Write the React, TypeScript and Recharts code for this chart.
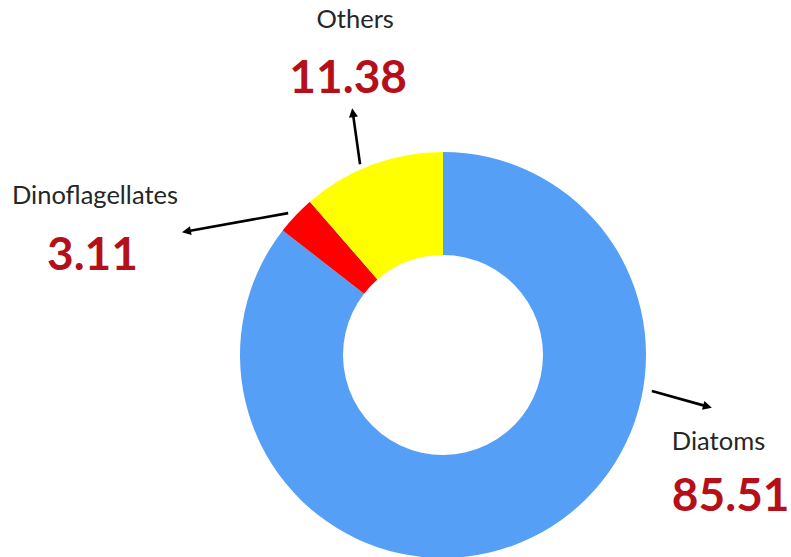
import React from 'react';
import { PieChart, Pie, Cell } from 'recharts';

const categories = ['Diatoms', 'Dinoflagellates', 'Others'];
const percentages = [85.51, 3.11, 11.38];
const valueLabels = ['85.51', '3.11', '11.38'];
const sliceColors = ['#559FF7', '#FF0000', '#FFFF00'];

const data = categories.map((name, i) => ({ name, value: percentages[i], valueLabel: valueLabels[i] }));

// Annotation layout: arrow endpoints in polar coords relative to the pie centre,
// text offsets relative to the arrow tip.
const annotationLayout = [
  { fromAngle: -9.8, fromR: 212, toAngle: -11.1, toR: 274, anchor: 'start', nameDx: -40, nameDy: 42, valueDx: -40, valueDy: 103 },
  { fromAngle: 137.5, fromR: 210, toAngle: 154.8, toR: 288.5, anchor: 'start', nameDx: -170, nameDy: -28, valueDx: -135, valueDy: 38 },
  { fromAngle: 113.5, fromR: 208, toAngle: 110.2, toR: 263, anchor: 'middle', nameDx: 3, nameDy: -80, valueDx: -4, valueDy: -15 },
];

const RAD = Math.PI / 180;
const FONT = 'Lato, "Open Sans", sans-serif';

const renderAnnotation = (props: any) => {
  const { cx, cy, index } = props;
  const lay = annotationLayout[index];
  const x1 = cx + lay.fromR * Math.cos(lay.fromAngle * RAD);
  const y1 = cy - lay.fromR * Math.sin(lay.fromAngle * RAD);
  const x2 = cx + lay.toR * Math.cos(lay.toAngle * RAD);
  const y2 = cy - lay.toR * Math.sin(lay.toAngle * RAD);
  const dx = x2 - x1;
  const dy = y2 - y1;
  const len = Math.sqrt(dx * dx + dy * dy);
  const ux = dx / len;
  const uy = dy / len;
  const headL = 9;
  const headW = 4.5;
  const bx = x2 - ux * headL;
  const by = y2 - uy * headL;
  const head = `${x2},${y2} ${bx - uy * headW},${by + ux * headW} ${bx + uy * headW},${by - ux * headW}`;
  return (
    <g key={`ann-${index}`}>
      <line x1={x1} y1={y1} x2={bx + ux * 2} y2={by + uy * 2} stroke="#000" strokeWidth={2.6} />
      <polygon points={head} fill="#000" />
      <text x={x2 + lay.nameDx} y={y2 + lay.nameDy} textAnchor={lay.anchor} fontFamily={FONT} fontSize={25.5} fill="#262626">
        {categories[index]}
      </text>
      <text x={x2 + lay.valueDx} y={y2 + lay.valueDy} textAnchor={lay.anchor} fontFamily={FONT} fontSize={46} fontWeight={700} fill="#B5101A">
        {valueLabels[index]}
      </text>
    </g>
  );
};

export default function App() {
  return (
    <div style={{ position: 'absolute', left: 0, top: 0, width: 791, height: 557, background: '#fff' }}>
      <PieChart width={791} height={557} margin={{ top: 0, right: 0, bottom: 0, left: 0 }}>
        <Pie
          data={data}
          dataKey="value"
          nameKey="name"
          cx={443}
          cy={355}
          innerRadius={100}
          outerRadius={203}
          startAngle={90}
          endAngle={-270}
          stroke="none"
          isAnimationActive={false}
          labelLine={false}
          label={renderAnnotation}
        >
          {data.map((d, i) => (
            <Cell key={d.name} fill={sliceColors[i]} />
          ))}
        </Pie>
      </PieChart>
    </div>
  );
}
